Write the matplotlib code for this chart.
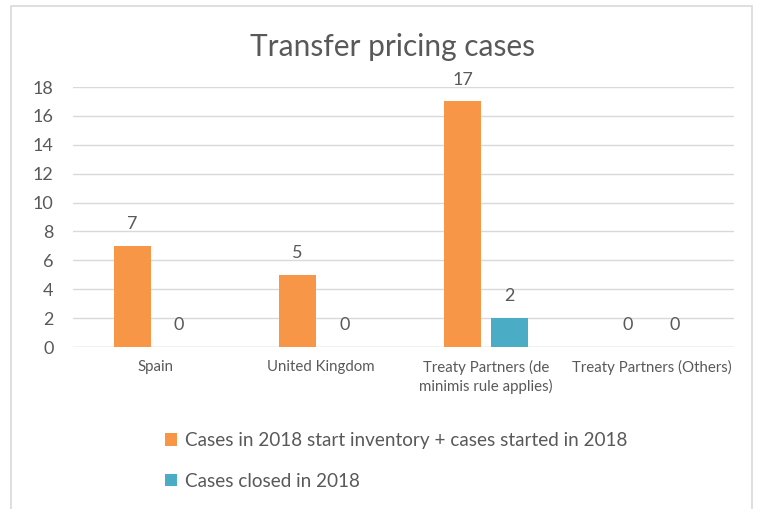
import numpy as np
import matplotlib
matplotlib.use("Agg")
import matplotlib.pyplot as plt
from matplotlib.patches import Rectangle

categories = ["Spain", "United Kingdom", "Treaty Partners (de\nminimis rule applies)", "Treaty Partners (Others)"]
started = [7, 5, 17, 0]
closed = [0, 0, 2, 0]
series_names = ["Cases in 2018 start inventory + cases started in 2018", "Cases closed in 2018"]
yticks = [0, 2, 4, 6, 8, 10, 12, 14, 16, 18]

plt.rcParams['font.family'] = ['Lato', 'DejaVu Sans']
text_color = "#595959"

fig = plt.figure(figsize=(7.67, 5.09), dpi=100)
# chart border (partly cropped in the source)
fig.patches.append(Rectangle((11 / 767, -0.1), 741 / 767, 1.1 - 6 / 509,
                             transform=fig.transFigure, fill=False,
                             edgecolor="#d9d9d9", linewidth=1.2))

ax = fig.add_axes([73 / 767, 1 - 347 / 509, 661 / 767, 260 / 509])
x = np.arange(len(categories))
w = 0.224
off = 0.142
b1 = ax.bar(x - off, started, w, color="#F79646", label=series_names[0], zorder=3)
b2 = ax.bar(x + off, closed, w, color="#4BACC6", label=series_names[1], zorder=3)

for bars in (b1, b2):
    for r in bars:
        ax.annotate(f"{int(r.get_height())}", (r.get_x() + r.get_width() / 2, r.get_height()),
                    xytext=(0, 10), textcoords="offset points", ha="center", va="bottom",
                    fontsize=13, color=text_color)

ax.set_xlim(-0.5, len(categories) - 0.5)
ax.set_ylim(0, 18)
ax.set_yticks(yticks)
ax.set_xticks(x)
ax.set_xticklabels(categories, fontsize=10.8, color=text_color, linespacing=1.4)
ax.tick_params(axis="y", labelsize=13, labelcolor=text_color, length=0, pad=14)
ax.tick_params(axis="x", length=0, pad=9)
ax.grid(axis="y", color="#d9d9d9", linewidth=1, zorder=0)
for s in ax.spines.values():
    s.set_visible(False)
ax.axhline(0, color="#d9d9d9", linewidth=1, zorder=1)

fig.text(393 / 767, 1 - 47 / 509, "Transfer pricing cases", ha="center", va="center",
         fontsize=21.5, color=text_color)

fig.legend(handles=[b1, b2], loc="upper left", bbox_to_anchor=(148 / 767, 1 - 415 / 509),
           frameon=False, fontsize=13.6, labelcolor=text_color, handlelength=0.65,
           handleheight=0.65, handletextpad=0.4, labelspacing=1.25)

fig.savefig("out.png", dpi=100)
